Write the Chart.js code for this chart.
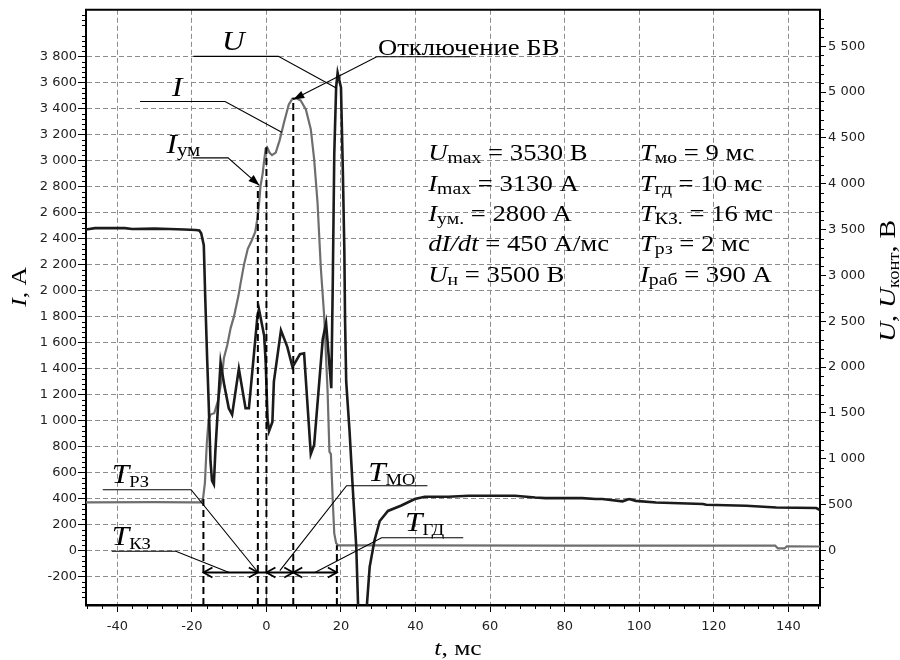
<!DOCTYPE html>
<html><head><meta charset="utf-8">
<script src="https://cdn.jsdelivr.net/npm/chart.js@4.4.1/dist/chart.umd.min.js"></script>
<style>html,body{margin:0;padding:0;background:#fff}canvas{display:block}</style>
</head><body>
<canvas id="c" width="900" height="660"></canvas>
<script>
// ---------- data ----------
const timeTicks = [-40, -20, 0, 20, 40, 60, 80, 100, 120, 140];
const currentTicks = [-200, 0, 200, 400, 600, 800, 1000, 1200, 1400, 1600, 1800, 2000, 2200, 2400, 2600, 2800, 3000, 3200, 3400, 3600, 3800];
const voltageTicks = [0, 500, 1000, 1500, 2000, 2500, 3000, 3500, 4000, 4500, 5000, 5500];

// current I, A (grey curve, left axis)
const tI = [-48.4, -30, -20, -17.5, -17, -16.5, -16, -15.5, -15, -14, -13, -12, -11.4, -10.5, -9.6, -8.7, -7.5, -6.9, -6, -5, -4, -3, -2.5, -2, -1.6, -1, -0.6, -0.2, 0.2, 0.8, 1.5, 2.5, 3.5, 4.7, 6, 7, 8, 9.2, 10.6, 11.9, 12.8, 13.7, 14.6, 15.5, 16.4, 16.9, 17.3, 17.8, 18.2, 18.7, 19.3, 40, 80, 120, 136.5, 137.2, 139, 139.6, 148.5];
const currentA = [370, 372, 370, 370, 400, 520, 820, 1010, 1045, 1055, 1150, 1320, 1480, 1580, 1710, 1800, 1960, 2060, 2200, 2320, 2380, 2450, 2540, 2660, 2800, 2900, 3000, 3090, 3100, 3060, 3040, 3060, 3150, 3290, 3430, 3475, 3478, 3460, 3390, 3240, 3010, 2680, 2170, 1800, 1230, 760, 740, 380, 130, 55, 38, 38, 37, 36, 36, 15, 15, 32, 30];

// contact voltage U, V (black curve, right axis)
const tU = [-48.4, -46, -38, -36, -30, -26, -22, -19, -18, -17.5, -16.8, -16.4, -15.9, -15.5, -15, -14.6, -14.1, -13.7, -12.3, -11.3, -10.1, -9.2, -7.4, -5.6, -4.7, -2.4, -2, -0.6, -0.2, 0.3, 0.7, 1.6, 2, 3.9, 5.6, 7, 9, 10.1, 11.9, 12.8, 15.1, 16, 17.4, 17.8, 18.2, 18.7, 19.1, 20, 20.5, 20.9, 21.1, 21.4, 22.3, 23.2, 24.1, 24.6, 25.5, 26.5, 27, 27.7, 29, 30.4, 32.6, 36.2, 39.8, 42.5, 48.8, 54.2, 61.3, 66.7, 72.1, 74.8, 84.7, 88.3, 90.1, 95.5, 97.3, 99.1, 104.5, 117.1, 118, 128.7, 136.8, 147.5, 148.5];
const voltageV = [3500, 3515, 3515, 3505, 3510, 3505, 3500, 3495, 3490, 3460, 3330, 2740, 2090, 1620, 970, 760, 720, 1080, 2050, 1800, 1550, 1480, 1980, 1550, 1550, 2560, 2630, 2340, 2050, 1440, 1300, 1400, 1840, 2400, 2220, 2000, 2140, 2150, 1050, 1150, 2300, 2480, 1770, 2920, 4320, 5050, 5210, 5050, 4140, 3280, 2500, 1840, 1300, 650, 40, -620, -1200, -1200, -570, -180, 110, 320, 430, 490, 560, 585, 585, 595, 595, 595, 576, 570, 570, 560, 560, 535, 560, 540, 522, 505, 497, 486, 468, 462, 440];

// parameter block text
const paramsLeft = [
  [['U','i'],['max','s'],[' = 3530 В','r']],
  [['I','i'],['max','s'],[' = 3130 А','r']],
  [['I','i'],['ум.','s'],[' = 2800 А','r']],
  [['dI/dt','i'],[' = 450 А/мс','r']],
  [['U','i'],['н','s'],[' = 3500 В','r']]
];
const paramsRight = [
  [['T','i'],['мо','s'],[' = 9 мс','r']],
  [['T','i'],['гд','s'],[' = 10 мс','r']],
  [['T','i'],['КЗ.','s'],[' = 16 мс','r']],
  [['T','i'],['рз','s'],[' = 2 мс','r']],
  [['I','i'],['раб','s'],[' = 390 А','r']]
];

// ---------- helpers ----------
const SERIF = '"Liberation Serif","Times New Roman",serif';
const SANS = '"DejaVu Sans", sans-serif';
const SX = 1.16;
function fmt(v){ return Math.abs(v) >= 1000 ? String(v).replace(/\B(?=(\d{3})+(?!\d))/g, ' ') : String(v); }
function fontFor(k, M, S){ return k === 'i' ? `italic ${M}px ${SERIF}` : (k === 's' ? `${S}px ${SERIF}` : `${M}px ${SERIF}`); }
function richWidth(ctx, parts, M, S){
  let w = 0; for (const [t,k] of parts){ ctx.font = fontFor(k,M,S); w += ctx.measureText(t).width; } return w * SX;
}
function drawRich(ctx, x, y, parts, M, S, dyS){
  ctx.save(); ctx.translate(x, y); ctx.scale(SX, 1); ctx.fillStyle = '#000'; ctx.textBaseline = 'alphabetic'; ctx.textAlign = 'left';
  let cx = 0;
  for (const [t,k] of parts){ ctx.font = fontFor(k,M,S); ctx.fillText(t, cx, k === 's' ? dyS : 0); cx += ctx.measureText(t).width; }
  ctx.restore();
}

// annotations (in data units: t in ms, I in A)
const dashedVerticals = [[-16.9, 400], [-2.3, 2800], [0, 3100], [7.2, 3480], [18.9, 40]];
const arrowRowLevel = -170;
const arrowSpans = [[-16.9, -2.3], [0, 7.2], [7.2, 18.9]];
const leaders = [
  {pts: [[-19.6, 3800], [3.2, 3800], [18.85, 3554]], arrow: false},
  {pts: [[-33.9, 3453], [-11.1, 3453], [4.1, 3216]], arrow: false},
  {pts: [[-19.8, 3019], [-10.3, 3019], [-1.9, 2808]], arrow: true},
  {pts: [[54.6, 3797], [29.6, 3797], [7.2, 3468]], arrow: true},
  {pts: [[-43.9, 467], [-20.2, 467], [-2.2, -170]], arrow: false},
  {pts: [[-41.5, -7], [-24.3, -7], [-10.0, -170]], arrow: false},
  {pts: [[43.2, 497], [21.5, 497], [3.6, -155]], arrow: false},
  {pts: [[52.8, 97], [30.9, 97], [13.0, -170]], arrow: false}
];
const labels = [
  {x: -11.9, y: 3845, parts: [['U','i']], M: 27, S: 17, d: 4},
  {x: -25.3, y: 3493, parts: [['I','i']], M: 27, S: 17, d: 4},
  {x: -26.8, y: 3057, parts: [['I','i'],['ум','s']], M: 27, S: 18, d: 3},
  {x: 29.9, y: 3814, parts: [['Отключение БВ','r']], M: 23, S: 17, d: 4},
  {x: -41.5, y: 522, parts: [['T','i'],['РЗ','s']], M: 27, S: 16, d: 4},
  {x: -41.5, y: 39, parts: [['T','i'],['КЗ','s']], M: 27, S: 16, d: 4},
  {x: 27.3, y: 535, parts: [['T','i'],['МО','s']], M: 27, S: 16, d: 4},
  {x: 37.2, y: 153, parts: [['T','i'],['ГД','s']], M: 27, S: 16, d: 4}
];

function arrowHead(ctx, x, y, dir, filled){
  const L = filled ? 11 : 9, W = filled ? 4 : 5;
  const ux = Math.cos(dir), uy = Math.sin(dir);
  const bx = x - ux*L, by = y - uy*L;
  ctx.beginPath();
  if (filled){
    ctx.moveTo(x, y); ctx.lineTo(bx - uy*W, by + ux*W); ctx.lineTo(bx + uy*W, by - ux*W); ctx.closePath(); ctx.fill();
  } else {
    ctx.moveTo(bx - uy*W, by + ux*W); ctx.lineTo(x, y); ctx.lineTo(bx + uy*W, by - ux*W); ctx.stroke();
  }
}

const annot = {
  id: 'annot',
  afterDatasetsDraw(chart){
    const ctx = chart.ctx, xs = chart.scales.x, ys = chart.scales.yI, ca = chart.chartArea;
    const px = t => xs.getPixelForValue(t), py = v => ys.getPixelForValue(v);
    ctx.save();
    ctx.strokeStyle = '#000'; ctx.lineWidth = 2; ctx.setLineDash([7, 4]);
    for (const [t, top] of dashedVerticals){
      ctx.beginPath(); ctx.moveTo(px(t), ca.bottom); ctx.lineTo(px(t), py(top)); ctx.stroke();
    }
    ctx.setLineDash([]);
    const ay = py(arrowRowLevel);
    ctx.lineWidth = 1.8;
    ctx.beginPath(); ctx.moveTo(px(arrowSpans[0][0]), ay); ctx.lineTo(px(arrowSpans[arrowSpans.length-1][1]), ay); ctx.stroke();
    for (const [a, b] of arrowSpans){
      arrowHead(ctx, px(a), ay, Math.PI, false);
      arrowHead(ctx, px(b), ay, 0, false);
    }
    ctx.lineWidth = 1.1; ctx.fillStyle = '#000';
    for (const l of leaders){
      ctx.beginPath();
      l.pts.forEach(([t, v], i) => { const X = px(t), Y = py(v); if (i) ctx.lineTo(X, Y); else ctx.moveTo(X, Y); });
      ctx.stroke();
      if (l.arrow){
        const n = l.pts.length, [t1, v1] = l.pts[n-2], [t2, v2] = l.pts[n-1];
        const dir = Math.atan2(py(v2) - py(v1), px(t2) - px(t1));
        arrowHead(ctx, px(t2), py(v2), dir, true);
      }
    }
    for (const L of labels) drawRich(ctx, px(L.x), py(L.y), L.parts, L.M, L.S, L.d);
    const rowStep = 233;
    paramsLeft.forEach((p, i) => drawRich(ctx, px(43.4), py(3000 - i*rowStep), p, 23, 17, 3));
    paramsRight.forEach((p, i) => drawRich(ctx, px(100.2), py(3000 - i*rowStep), p, 23, 17, 3));
    ctx.restore();
  },
  afterDraw(chart){
    const ctx = chart.ctx, ca = chart.chartArea;
    const xs = chart.scales.x, yl = chart.scales.yI, yr = chart.scales.yU;
    ctx.save();
    ctx.strokeStyle = '#000'; ctx.lineWidth = 2;
    ctx.beginPath(); ctx.moveTo(ca.left - 1, ca.top); ctx.lineTo(ca.right + 1, ca.top); ctx.stroke();
    ctx.lineWidth = 1;
    for (let v = -48; v <= 148.5; v += 4){ if (v % 20 === 0) continue; const X = Math.round(xs.getPixelForValue(v)) + 0.5; ctx.beginPath(); ctx.moveTo(X, ca.bottom); ctx.lineTo(X, ca.bottom + 4); ctx.stroke(); }
    for (let v = -400; v <= 4158; v += 40){ if (v % 200 === 0) continue; const Y = Math.round(yl.getPixelForValue(v)) + 0.5; ctx.beginPath(); ctx.moveTo(ca.left - 4, Y); ctx.lineTo(ca.left, Y); ctx.stroke(); }
    for (let v = -500; v <= 5897; v += 100){ if (v % 500 === 0) continue; const Y = Math.round(yr.getPixelForValue(v)) + 0.5; ctx.beginPath(); ctx.moveTo(ca.right, Y); ctx.lineTo(ca.right + 4, Y); ctx.stroke(); }
    ctx.fillStyle = '#000';
    const leftT = [['I','i'],[', А','r']];
    let w = richWidth(ctx, leftT, 22, 15);
    ctx.save(); ctx.translate(26, 287); ctx.rotate(-Math.PI/2); drawRich(ctx, -w/2, 0, leftT, 22, 15, 4); ctx.restore();
    const rightT = [['U','i'],[', ','r'],['U','i'],['конт','s'],[', В','r']];
    w = richWidth(ctx, rightT, 24, 16);
    ctx.save(); ctx.translate(895, 281); ctx.rotate(-Math.PI/2); drawRich(ctx, -w/2, 0, rightT, 24, 16, 4); ctx.restore();
    const botT = [['t','i'],[', мс','r']];
    w = richWidth(ctx, botT, 22, 15);
    drawRich(ctx, 458 - w/2, 655, botT, 22, 15, 4);
    ctx.restore();
  }
};

const tickFont = {family: SANS, size: 13};
new Chart(document.getElementById('c'), {
  type: 'line',
  data: {
    datasets: [
      {label: 'U', yAxisID: 'yU', data: tU.map((t, i) => ({x: t, y: voltageV[i]})), borderColor: '#1b1b1b', borderWidth: 2.6, pointRadius: 0, tension: 0, fill: false},
      {label: 'I', yAxisID: 'yI', data: tI.map((t, i) => ({x: t, y: currentA[i]})), borderColor: '#6e6e6e', borderWidth: 2.2, pointRadius: 0, tension: 0, fill: false}
    ]
  },
  options: {
    responsive: false, animation: false, events: [],
    layout: {padding: {top: 6, left: 0, right: 0, bottom: 0}},
    plugins: {legend: {display: false}, tooltip: {enabled: false}},
    scales: {
      x: {
        type: 'linear', min: -48.4, max: 148.5,
        afterBuildTicks: s => { s.ticks = timeTicks.map(v => ({value: v})); },
        afterFit: s => { s.height = 55; },
        grid: {color: '#8c8c8c', lineWidth: 1, tickColor: '#000', tickLength: 7, tickWidth: 1},
        border: {display: true, color: '#000', width: 2.5, dash: [5, 3]},
        ticks: {font: tickFont, color: '#222', padding: 7, maxRotation: 0, autoSkip: false, callback: v => fmt(v)}
      },
      yI: {
        type: 'linear', position: 'left', min: -420, max: 4158,
        afterBuildTicks: s => { s.ticks = currentTicks.map(v => ({value: v})); },
        afterFit: s => { s.width = 86; },
        grid: {color: '#8c8c8c', lineWidth: 1, tickColor: '#000', tickLength: 8, tickWidth: 1},
        border: {display: true, color: '#000', width: 2, dash: [5, 3]},
        ticks: {font: tickFont, color: '#222', padding: 1, autoSkip: false, callback: v => fmt(v)}
      },
      yU: {
        type: 'linear', position: 'right', min: -596, max: 5897,
        afterBuildTicks: s => { s.ticks = voltageTicks.map(v => ({value: v})); },
        afterFit: s => { s.width = 80; },
        grid: {drawOnChartArea: false, color: '#000', tickColor: '#000', tickLength: 6, tickWidth: 1},
        border: {display: true, color: '#000', width: 2},
        ticks: {font: tickFont, color: '#222', padding: 2, autoSkip: false, callback: v => fmt(v)}
      }
    }
  },
  plugins: [annot]
});
</script>
</body></html>
